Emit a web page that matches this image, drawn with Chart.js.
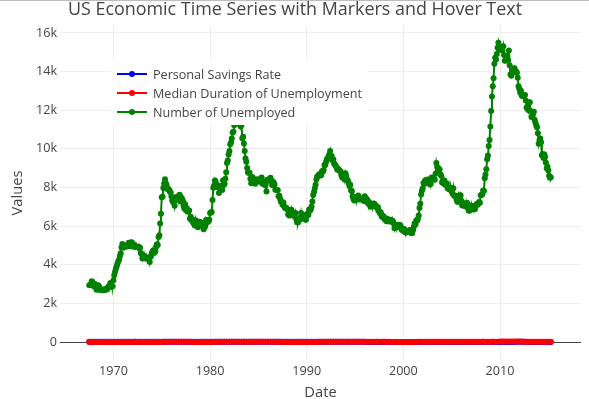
<!DOCTYPE html>
<html>
<head>
<meta charset="utf-8">
<script src="https://cdn.jsdelivr.net/npm/chart.js@4.4.1/dist/chart.umd.min.js"></script>
<style>
  html, body { margin: 0; padding: 0; background: #fff; }
  #wrap { width: 589px; height: 399px; position: relative; }
</style>
</head>
<body>
<div id="wrap"><canvas id="chart" width="589" height="399"></canvas></div>
<script>
// ---------- DATA ----------
const TITLE = "US Economic Time Series with Markers and Hover Text";
const seriesNames = ["Personal Savings Rate", "Median Duration of Unemployment", "Number of Unemployed"];
const seriesColors = ["blue", "red", "green"];
const xTicks = [1970, 1980, 1990, 2000, 2010];
const yTicks = [0, 2000, 4000, 6000, 8000, 10000, 12000, 14000, 16000];

// monthly, 1967-07 .. 2015-04 (thousands of persons)
const unemploy = [
  2944, 2945, 2958, 3143, 3066, 3018,
  2878, 3001, 2877, 2709, 2740, 2938, 2883, 2768, 2686, 2689, 2715, 2685,
  2718, 2692, 2712, 2758, 2713, 2816, 2868, 2856, 3040, 3049, 2856, 2884,
  3201, 3453, 3635, 3797, 3919, 4071, 4175, 4256, 4456, 4591, 4898, 5076,
  4986, 4903, 4987, 4959, 4996, 4949, 5035, 5134, 5042, 4954, 5161, 5154,
  5019, 4928, 5038, 4959, 4922, 4923, 4913, 4939, 4849, 4875, 4602, 4543,
  4326, 4452, 4394, 4459, 4329, 4363, 4305, 4305, 4350, 4144, 4396, 4489,
  4644, 4731, 4634, 4618, 4705, 4927, 5063, 5022, 5437, 5523, 6140, 6636,
  7501, 7520, 7978, 8210, 8433, 8220, 8127, 7928, 7923, 7897, 7794, 7744,
  7534, 7326, 7230, 7330, 7053, 7322, 7490, 7518, 7380, 7430, 7620, 7545,
  7280, 7443, 7307, 7059, 6911, 7134, 6829, 6925, 6751, 6763, 6815, 6386,
  6489, 6318, 6337, 6180, 6127, 6028, 6309, 6080, 6125, 5947, 6077, 6228,
  6109, 6173, 6109, 6069, 5840, 5959, 5996, 6320, 6190, 6296, 6238, 6325,
  6683, 6702, 6729, 7358, 7984, 8098, 8363, 8281, 8021, 8088, 8023, 7718,
  8071, 8051, 7982, 7869, 8366, 8131, 8196, 8451, 8793, 9267, 9397, 9705,
  9895, 10244, 10335, 10538, 10849, 10881, 11217, 11529, 11938, 12051, 11534, 11545,
  11408, 11268, 11154, 11246, 10548, 10623, 10282, 9887, 9499, 9331, 9008, 8791,
  8746, 8762, 8456, 8226, 8537, 8519, 8367, 8381, 8198, 8358, 8423, 8321,
  8339, 8395, 8302, 8460, 8513, 8196, 8248, 8298, 8128, 8138, 7795, 8402,
  8383, 8364, 8439, 8508, 8319, 8135, 8310, 8243, 8159, 7883, 7892, 7865,
  7862, 7542, 7574, 7398, 7268, 7261, 7102, 7227, 7035, 6936, 6953, 6929,
  6876, 6601, 6779, 6546, 6605, 6843, 6604, 6568, 6537, 6518, 6682, 6359,
  6205, 6187, 6376, 6421, 6364, 6682, 6442, 6586, 6430, 6412, 6339, 6330,
  6544, 6648, 6582, 6857, 6790, 6862, 7010, 7280, 7613, 7770, 7959, 8136,
  8420, 8565, 8573, 8662, 8700, 8620, 8649, 8843, 8820, 8901, 9164, 9164,
  9321, 9457, 9474, 9599, 9714, 9895, 9613, 9630, 9417, 9462, 9229, 9191,
  9125, 9033, 8923, 8966, 8901, 8870, 8826, 8636, 8513, 8604, 8585, 8415,
  8732, 8592, 8411, 8363, 8231, 8080, 8148, 7863, 7809, 7550, 7408, 7326,
  7493, 7352, 7425, 7520, 7581, 7384, 7446, 7406, 7380, 7374, 7379, 7307,
  7553, 7471, 7411, 7361, 7189, 7264, 7174, 7013, 7156, 7020, 7072, 7171,
  7158, 7033, 7049, 6945, 6971, 6790, 6785, 6666, 6706, 6507, 6476, 6527,
  6416, 6343, 6412, 6256, 6380, 6327, 6257, 6233, 6327, 6254, 6239, 6261,
  6131, 5886, 6064, 5977, 5934, 6065, 6016, 5975, 6056, 5962, 5818, 5800,
  5745, 5850, 5711, 5651, 5700, 5706, 5716, 5732, 5793, 5734, 5629, 5641,
  5805, 5968, 6140, 6086, 6291, 6281, 6369, 6556, 6944, 7152, 7637, 7826,
  7947, 8229, 8179, 8361, 8380, 8373, 8410, 8362, 8267, 8155, 8193, 8516,
  8480, 8444, 8438, 8397, 8716, 9266, 9056, 9020, 8924, 8927, 8672, 8610,
  8254, 8336, 8206, 8363, 8148, 8159, 8212, 7965, 7959, 7896, 7908, 7981,
  7800, 7683, 7958, 7577, 7584, 7545, 7381, 7262, 7256, 7580, 7472, 7600,
  7311, 7062, 7203, 7141, 7063, 7017, 7066, 7208, 7119, 6811, 6790, 6968,
  7052, 7060, 6924, 6856, 6874, 6890, 7062, 7139, 7102, 7163, 7254, 7211,
  7599, 7613, 7654, 7850, 7822, 8474, 8669, 8939, 9459, 9658, 10147, 10463,
  11164, 11958, 12718, 13241, 13662, 14413, 14719, 14633, 14918, 15238, 15490, 15219,
  15131, 15178, 15224, 15110, 15314, 14860, 14566, 14581, 14621, 14828, 14605, 15097,
  14335, 13846, 13787, 13921, 14046, 14037, 14176, 14017, 14012, 13942, 13676, 13246,
  13117, 12915, 13010, 12758, 12722, 12737, 12767, 12785, 12505, 12128, 12180, 12016,
  12398, 12416, 11957, 11655, 11673, 11819, 11926, 11502, 11347, 11205, 11114, 10813,
  10265, 10454, 10537, 10343, 9675, 9735, 9522, 9703, 9573, 9278, 9000, 9074,
  8883, 8612, 8504, 8526
];

// quarterly (Jan/Apr/Jul/Oct), 1967-07 .. 2015-04 (percent)
const psavert = [
  12.6, 11.9,
  11.7, 12.3, 10.7, 11.0,  11.1, 10.0, 11.4, 12.0,  11.8, 12.6, 13.0, 13.1,
  13.3, 13.6, 13.0, 12.8,  11.8, 11.5, 11.9, 13.0,  12.3, 13.3, 13.4, 14.2,
  13.6, 13.3, 13.0, 14.0,  13.5, 13.4, 15.2, 13.9,  12.0, 11.8, 11.7, 11.0,
  10.3, 10.9, 11.0, 11.2,  11.0, 11.1, 10.9, 10.8,  11.2, 10.6, 10.4, 10.3,
  10.0, 10.5, 11.5, 11.7,  10.9, 11.5, 12.5, 12.5,  12.4, 12.0, 11.6, 11.3,
  10.9, 9.6, 9.7, 10.5,    11.1, 11.0, 11.2, 11.6,  10.3, 9.6, 8.4, 9.0,
  9.7, 9.6, 8.3, 8.1,      8.2, 7.0, 7.6, 7.8,      8.0, 7.8, 7.7, 8.2,
  8.4, 7.9, 7.3, 8.1,      8.0, 8.3, 8.0, 8.2,      8.2, 8.5, 8.2, 8.8,
  9.5, 9.9, 9.6, 9.1,      8.1, 7.8, 7.4, 7.0,      6.7, 6.9, 6.8, 6.8,
  7.0, 6.6, 6.7, 6.6,      6.6, 6.4, 6.2, 6.0,      6.1, 5.9, 5.7, 5.6,
  6.5, 6.1, 6.0, 5.6,      5.1, 4.6, 4.4, 4.1,      4.4, 4.3, 4.5, 4.2,
  4.8, 4.6, 5.3, 3.7,      5.5, 5.7, 5.1, 5.3,      5.0, 5.2, 5.6, 4.8,
  5.0, 4.8, 5.1, 4.4,      3.3, 2.7, 2.2, 2.8,      3.4, 3.6, 3.2, 3.3,
  3.8, 3.3, 2.9, 2.6,      3.7, 8.0, 5.0, 5.1,      6.2, 7.7, 5.5, 5.7,
  6.1, 5.7, 5.4, 5.7,      6.4, 6.1, 6.3, 6.5,      7.8, 8.3, 8.0, 9.9,
  5.4, 5.4, 5.2, 4.8,      5.2, 5.1, 5.6, 5.3,
  5.5, 5.6
];

// quarterly (Jan/Apr/Jul/Oct), 1967-07 .. 2015-04 (weeks)
const uempmed = [
  4.5, 4.9,
  4.5, 4.3, 4.3, 4.4,      4.4, 4.6, 4.4, 4.5,      4.6, 4.8, 5.2, 5.7,
  5.9, 6.2, 6.3, 6.4,      6.2, 6.5, 6.1, 5.9,      5.6, 4.9, 5.0, 4.7,
  5.0, 5.1, 5.1, 5.3,      6.3, 8.3, 9.4, 8.7,      8.8, 8.0, 8.2, 8.2,
  7.6, 6.8, 6.9, 6.8,      6.6, 5.8, 6.0, 5.6,      5.7, 5.3, 5.4, 5.6,
  5.9, 6.4, 7.1, 7.7,      7.3, 7.0, 6.8, 6.9,      7.1, 8.4, 8.7, 10.2,
  11.1, 10.0, 9.6, 9.0,    8.5, 7.8, 7.2, 7.2,      7.4, 6.8, 6.6, 6.8,
  7.0, 6.8, 6.7, 6.8,      6.8, 6.5, 6.3, 5.9,      6.2, 5.9, 5.9, 6.2,
  5.0, 4.8, 4.6, 4.6,      4.8, 5.1, 5.4, 5.6,      6.0, 6.7, 7.3, 7.5,
  8.0, 8.9, 8.6, 8.5,      8.3, 8.3, 8.5, 8.3,      8.6, 9.1, 9.2, 8.9,
  8.0, 8.1, 8.3, 8.3,      8.3, 8.7, 8.1, 7.8,      8.0, 8.0, 8.2, 7.9,
  7.1, 6.7, 6.7, 6.2,      6.4, 6.6, 6.1, 6.4,      5.8, 6.0, 6.1, 5.9,
  5.8, 6.1, 6.8, 7.3,      8.4, 8.9, 9.5, 9.6,      9.6, 10.2, 10.2, 10.1,
  10.6, 10.0, 9.0, 9.6,    9.4, 8.9, 8.9, 8.2,      8.6, 8.2, 8.3, 8.2,
  8.3, 8.2, 8.9, 8.7,      9.0, 9.1, 9.7, 10.4,     10.7, 12.4, 16.2, 18.9,
  20.0, 22.3, 21.1, 21.2,  21.5, 21.7, 21.6, 20.6,  19.6, 19.7, 17.5, 17.7,
  17.7, 17.2, 15.8, 16.9,  15.9, 15.6, 13.2, 13.5,
  13.2, 11.7
];

// first observation: July 1967; dates as decimal years
const START_YEAR = 1967, START_MONTH = 6; // 0-based month
const monthly = (vals) => vals.map((v, i) => ({ x: START_YEAR + (START_MONTH + i) / 12, y: v }));
const quarterly = (vals) => vals.map((v, i) => ({ x: START_YEAR + (START_MONTH + i * 3) / 12, y: v }));

// ---------- LAYOUT ----------
const FONT = "'Open Sans', verdana, arial, sans-serif";
const TXT = "#444";
const PLOT = { left: 60, right: 581, top: 26, bottom: 360 };

const decorations = {
  id: "decorations",
  afterDraw(chart) {
    const ctx = chart.ctx;
    ctx.save();
    // thin frame line at top of the page
    ctx.fillStyle = "#bdbdbd";
    ctx.fillRect(0, 0, chart.width, 1);

    ctx.fillStyle = TXT;
    ctx.textAlign = "center";
    ctx.textBaseline = "alphabetic";
    ctx.font = "17.9px " + FONT;
    ctx.fillText(TITLE, 295, 15);

    ctx.font = "14.7px " + FONT;
    ctx.fillText("Date", (PLOT.left + PLOT.right) / 2, 397);

    ctx.translate(22, (PLOT.top + PLOT.bottom) / 2);
    ctx.rotate(-Math.PI / 2);
    ctx.fillText("Values", 0, 0);
    ctx.restore();

    // legend
    ctx.save();
    ctx.fillStyle = "#fff";
    ctx.fillRect(111, 59, 257, 66);
    ctx.font = "12.6px " + FONT;
    ctx.textAlign = "left";
    ctx.textBaseline = "middle";
    seriesNames.forEach((name, i) => {
      const y = 74 + i * 19;
      ctx.strokeStyle = seriesColors[i];
      ctx.lineWidth = 2;
      ctx.beginPath();
      ctx.moveTo(117, y);
      ctx.lineTo(147, y);
      ctx.stroke();
      ctx.fillStyle = seriesColors[i];
      ctx.beginPath();
      ctx.arc(132, y, 3, 0, Math.PI * 2);
      ctx.fill();
      ctx.fillStyle = TXT;
      ctx.fillText(name, 153, y + 1);
    });
    ctx.restore();
  }
};

// later traces are drawn on top, as in the reference
const mkSet = (label, data, color, order) => ({
  label, data, order,
  borderColor: color,
  backgroundColor: color,
  borderWidth: 2,
  pointRadius: 3,
  pointBorderWidth: 0,
  pointHoverRadius: 4,
  tension: 0
});

new Chart(document.getElementById("chart"), {
  type: "line",
  data: {
    datasets: [
      mkSet(seriesNames[0], quarterly(psavert), seriesColors[0], 2),
      mkSet(seriesNames[1], quarterly(uempmed), seriesColors[1], 1),
      mkSet(seriesNames[2], monthly(unemploy), seriesColors[2], 0)
    ]
  },
  options: {
    responsive: false,
    animation: false,
    layout: { padding: { left: 0, right: 589 - PLOT.right, top: PLOT.top, bottom: 0 } },
    plugins: { legend: { display: false }, title: { display: false }, tooltip: { enabled: false } },
    scales: {
      x: {
        type: "linear",
        min: 1964.47,
        max: 2018.38,
        afterFit: (s) => { s.height = 399 - PLOT.bottom; },
        afterBuildTicks: (s) => { s.ticks = xTicks.map(v => ({ value: v })); },
        border: { display: false },
        grid: { color: "#eee", lineWidth: 1, drawTicks: false },
        ticks: { padding: 4, color: TXT, font: { family: FONT, size: 12.6 }, callback: v => String(v) }
      },
      y: {
        min: -932,
        max: 16362,
        afterFit: (s) => { s.width = PLOT.left; },
        afterBuildTicks: (s) => { s.ticks = yTicks.map(v => ({ value: v })); },
        border: { display: false },
        grid: {
          color: (c) => (c.tick && c.tick.value === 0 ? "#444" : "#eee"),
          lineWidth: 1,
          drawTicks: false
        },
        ticks: {
          padding: 3, color: TXT, font: { family: FONT, size: 12.6 },
          callback: v => (v === 0 ? "0" : (v / 1000) + "k")
        }
      }
    }
  },
  plugins: [decorations]
});
</script>
</body>
</html>
